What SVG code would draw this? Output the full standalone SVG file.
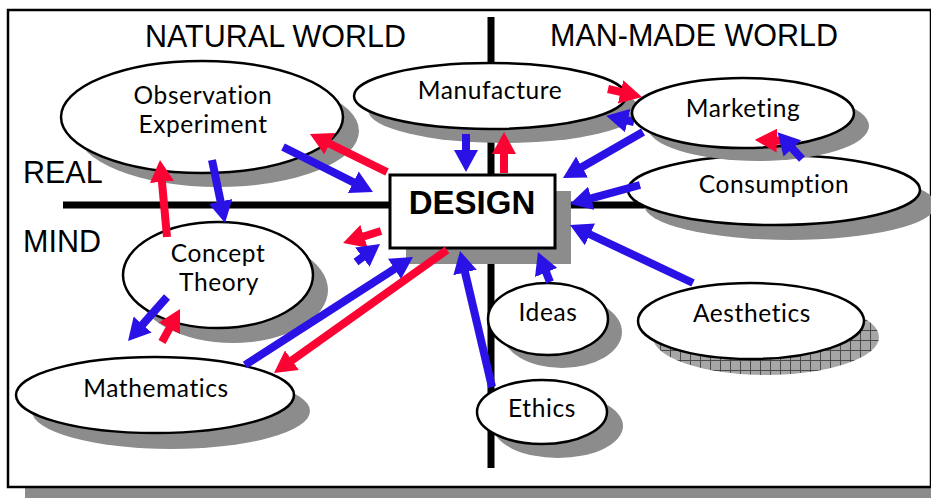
<svg xmlns="http://www.w3.org/2000/svg" width="931" height="498" viewBox="0 0 931 498">
<defs>
<style>
.shadow{fill:#8c8c8c;}
.ell{fill:#fff;stroke:#000;stroke-width:2.5;}
.lbl{font-family:Lato,"Open Sans","Liberation Sans",sans-serif;font-size:24.5px;letter-spacing:0.6px;fill:#000;text-anchor:middle;}
.big{font-family:"Liberation Sans",Arial,sans-serif;font-size:30.5px;fill:#000;}
.axis{stroke:#000;stroke-width:7;fill:none;}
.red{stroke:#fb0434;stroke-width:8;fill:none;marker-end:url(#hr);}
.blue{stroke:#2a12e6;stroke-width:8;fill:none;marker-end:url(#hb);}
</style>
<marker id="hr" markerUnits="userSpaceOnUse" markerWidth="22" markerHeight="24" viewBox="0 0 22 24" refX="2" refY="12" orient="auto"><path d="M0,0 L22,12 L0,24 z" fill="#fb0434"/></marker>
<marker id="hb" markerUnits="userSpaceOnUse" markerWidth="22" markerHeight="24" viewBox="0 0 22 24" refX="2" refY="12" orient="auto"><path d="M0,0 L22,12 L0,24 z" fill="#2a12e6"/></marker>
<pattern id="hatch" patternUnits="userSpaceOnUse" width="10" height="10">
<rect width="10" height="10" fill="#a6a6a6"/>
<path d="M0,0.5 H10 M0.5,0 V10" stroke="#4a4a4a" stroke-width="1"/>
</pattern>
</defs>

<g id="frame">
<rect x="25" y="20" width="922" height="478" fill="#8c8c8c"/>
<rect x="8" y="10" width="923" height="477" fill="#fff" stroke="#000" stroke-width="2.5"/>
</g>

<g id="axes">
<line class="axis" x1="63" y1="205" x2="680" y2="205"/>
<line class="axis" x1="491" y1="17" x2="491" y2="468"/>
<text class="big" x="145" y="47">NATURAL WORLD</text>
<text class="big" x="550" y="46">MAN-MADE WORLD</text>
<text class="big" x="23" y="183">REAL</text>
<text class="big" x="23" y="252">MIND</text>
</g>

<g id="node-observation">
<ellipse class="shadow" cx="218" cy="131" rx="141" ry="56"/>
<ellipse class="ell" cx="202" cy="117" rx="141" ry="56"/>
<text class="lbl" x="203" y="103.5">Observation</text>
<text class="lbl" x="203" y="133">Experiment</text>
</g>

<g id="node-manufacture">
<ellipse class="shadow" cx="504" cy="110" rx="136" ry="33"/>
<ellipse class="ell" cx="490" cy="96" rx="136" ry="33"/>
<text class="lbl" x="490" y="99">Manufacture</text>
</g>

<g id="node-consumption">
<ellipse class="shadow" cx="790" cy="205" rx="146" ry="35"/>
<ellipse class="ell" cx="774" cy="190" rx="146" ry="35"/>
<text class="lbl" x="774" y="193">Consumption</text>
</g>

<g id="node-marketing">
<ellipse class="shadow" cx="758" cy="126" rx="111" ry="35"/>
<path d="M634,122 L625.7,120.1" stroke="#2a12e6" stroke-width="8" marker-end="url(#hb)"/>
<ellipse class="ell" cx="743" cy="113" rx="111" ry="35"/>
<text class="lbl" x="743" y="117">Marketing</text>
</g>

<g id="node-aesthetics">
<ellipse cx="766" cy="337" rx="113" ry="38" fill="url(#hatch)"/>
<ellipse class="ell" cx="751" cy="321" rx="113" ry="38"/>
<text class="lbl" x="752" y="322">Aesthetics</text>
</g>

<g id="node-ideas">
<ellipse class="shadow" cx="562" cy="332" rx="60" ry="36"/>
<ellipse class="ell" cx="548" cy="319" rx="60" ry="36"/>
<text class="lbl" x="548" y="321">Ideas</text>
</g>

<g id="node-ethics">
<ellipse class="shadow" cx="558" cy="426" rx="65" ry="32"/>
<ellipse class="ell" cx="542" cy="412" rx="65" ry="32"/>
<text class="lbl" x="542" y="417">Ethics</text>
</g>

<g id="node-concept">
<ellipse class="shadow" cx="233" cy="290" rx="95" ry="53"/>
<ellipse class="ell" cx="218" cy="275" rx="95" ry="53"/>
<text class="lbl" x="218" y="262">Concept</text>
<text class="lbl" x="219" y="291">Theory</text>
</g>

<g id="node-mathematics">
<ellipse class="shadow" cx="171" cy="411" rx="139" ry="38"/>
<ellipse class="ell" cx="155" cy="395" rx="139" ry="38"/>
<text class="lbl" x="156" y="397">Mathematics</text>
</g>

<g id="node-design">
<rect x="406" y="191" width="165" height="73" fill="#8c8c8c"/>
<rect x="390" y="175" width="165" height="73" fill="#fff" stroke="#000" stroke-width="3"/>
<text x="472" y="214" font-family="Liberation Sans, Arial, sans-serif" font-size="33" font-weight="bold" text-anchor="middle">DESIGN</text>
</g>

<g id="connectors">
<path class="blue" d="M283,147 L355.1,183.1"/>
<path class="red" d="M387,172 L327.9,142.8"/>
<path class="blue" d="M212,160 L221,203.4"/>
<path class="red" d="M167,237 L161.8,179.9"/>
<path class="blue" d="M466,134 L466,152"/>
<path class="red" d="M504,173 L504,152"/>
<path class="red" d="M608,89 L622.5,92.4"/>
<path class="blue" d="M643,132 L580.3,168"/>
<path class="blue" d="M640,185 L589.3,198.8"/>
<path class="blue" d="M693,283 L588.1,233.5"/>
<path class="red" d="M790,141 L774.9,140.5"/>
<path class="blue" d="M802,159 L791,147"/>
<path class="blue" d="M550,282 L545.4,270.6"/>
<path class="blue" d="M492,387 L464.6,270.5"/>
<path class="blue" d="M245,365 L396.2,267.8"/>
<path class="red" d="M447,250 L290.3,361.4"/>
<path class="red" d="M381,231 L362.1,237"/>
<path class="blue" d="M356,262 L364,256"/>
<path class="blue" d="M167,297 L141.3,326"/>
<path class="red" d="M162,342 L170.4,326.6"/>
</g>
</svg>
